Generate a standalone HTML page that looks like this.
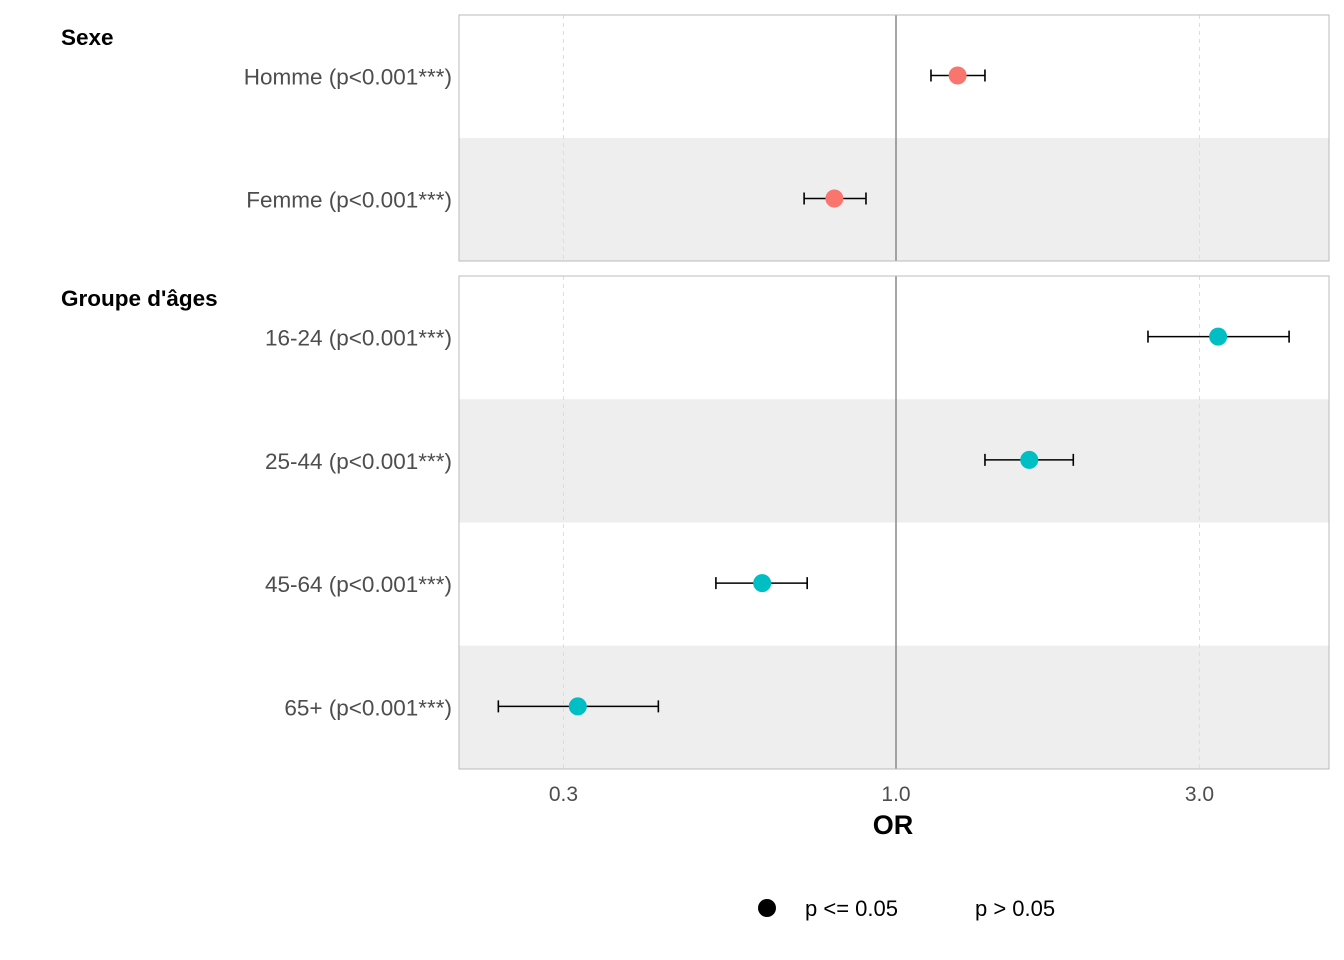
<!DOCTYPE html>
<html><head><meta charset="utf-8"><style>
html,body{margin:0;padding:0;background:#fff;}
svg{display:block;font-family:"Liberation Sans",Arial,sans-serif;}
</style></head><body>
<svg id="chart" width="1344" height="960" viewBox="0 0 1344 960"></svg>
<script>
const groups = ["Sexe","Groupe d'âges"];
const labels = ["Homme (p<0.001***)","Femme (p<0.001***)","16-24 (p<0.001***)","25-44 (p<0.001***)","45-64 (p<0.001***)","65+ (p<0.001***)"];
const rowGroup = [0,0,1,1,1,1];
const orValues = [1.25,0.80,3.21,1.62,0.616,0.316];
const ciLow = [1.135,0.717,2.49,1.38,0.521,0.237];
const ciHigh = [1.38,0.897,4.15,1.90,0.725,0.423];
const tickValues = [0.3,1.0,3.0];
const tickLabels = ["0.3","1.0","3.0"];
const colors = ["#F8766D","#00BFC4"];

const NS="http://www.w3.org/2000/svg";
const svg=document.getElementById('chart');
function el(tag,attrs,parent){const e=document.createElementNS(NS,tag);for(const k in attrs)e.setAttribute(k,attrs[k]);(parent||svg).appendChild(e);return e;}
const px0=896, pxPerDec=636;
function xs(v){return px0+Math.log10(v)*pxPerDec;}
const panels=[{y0:15,y1:261,rows:[0,1]},{y0:276,y1:769,rows:[2,3,4,5]}];
const L=459,R=1329;

panels.forEach((p,pi)=>{
  const g=el('g',{});
  
  
  const h=(p.y1-p.y0)/p.rows.length;
  p.rows.forEach((r,i)=>{
    if(i%2===1){const s=el('rect',{x:L,y:p.y0+i*h,width:R-L,height:h,fill:'#EEEEEE'},g);
      }
  });
  tickValues.forEach(t=>{ if(t!==1){const gl=el('line',{x1:xs(t),x2:xs(t),y1:p.y0,y2:p.y1,stroke:'#DDDDDD','stroke-dasharray':'4,4','stroke-width':1},g);
    }});
  const ref=el('line',{x1:xs(1),x2:xs(1),y1:p.y0,y2:p.y1,stroke:'#888888','stroke-width':1.5},g);
  
  const fr=el('rect',{x:L,y:p.y0,width:R-L,height:p.y1-p.y0,fill:'none',stroke:'#BBBBBB','stroke-width':1},g);
  
  const gt=el('text',{x:61,y:p.y0+30,'font-size':22.5,'font-weight':'bold',fill:'#000'},g);
  gt.textContent=groups[pi];
  
  p.rows.forEach((r,i)=>{
    const cy=p.y0+(i+0.5)*h-1;
    const lt=el('text',{x:452,y:cy+9,'font-size':22.5,fill:'#4D4D4D','text-anchor':'end'},g);
    lt.textContent=labels[r];
    
    const c=colors[rowGroup[r]];
    const eb=el('g',{},g);
    
    el('line',{x1:xs(ciLow[r]),x2:xs(ciHigh[r]),y1:cy,y2:cy,stroke:'#000','stroke-width':1.6},eb);
    el('line',{x1:xs(ciLow[r]),x2:xs(ciLow[r]),y1:cy-6,y2:cy+6,stroke:'#000','stroke-width':1.6},eb);
    el('line',{x1:xs(ciHigh[r]),x2:xs(ciHigh[r]),y1:cy-6,y2:cy+6,stroke:'#000','stroke-width':1.6},eb);
    const pt=el('circle',{cx:xs(orValues[r]),cy:cy,r:9,fill:c},g);
    
  });
});
tickValues.forEach((t,i)=>{
  const tl=el('text',{x:xs(t),y:801,'font-size':21,fill:'#4D4D4D','text-anchor':'middle'});
  tl.textContent=tickLabels[i];
  
});
const xt=el('text',{x:893,y:834,'font-size':27,'font-weight':'bold',fill:'#000','text-anchor':'middle'});
xt.textContent='OR';

const lg=el('g',{});

const ld=el('circle',{cx:767,cy:908,r:9,fill:'#000'},lg);

const l1=el('text',{x:805,y:916,'font-size':22,fill:'#000'},lg);l1.textContent='p <= 0.05';

const l2=el('text',{x:975,y:916,'font-size':22,fill:'#000'},lg);l2.textContent='p > 0.05';

</script>
</body></html>
